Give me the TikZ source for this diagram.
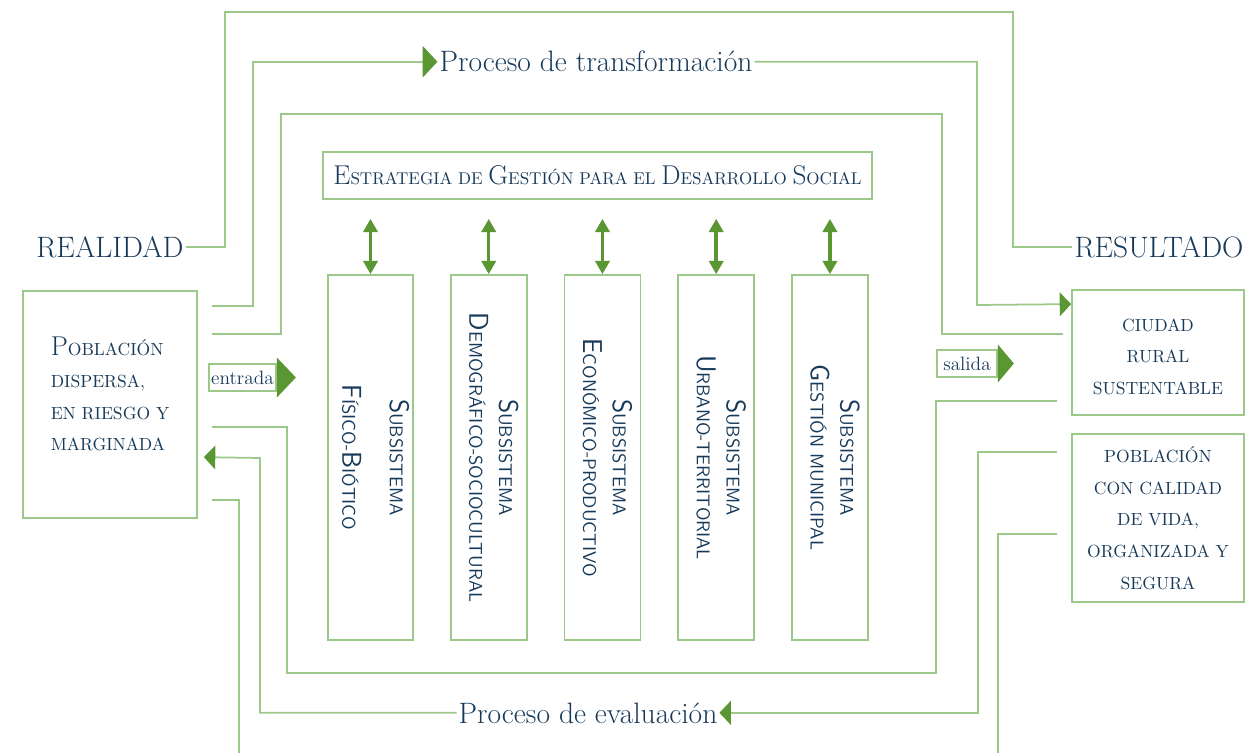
\documentclass[tikz,border=0pt]{standalone}
\usepackage{fontspec}
\usepackage{xcolor}
\usetikzlibrary{arrows.meta, positioning, calc}
\definecolor{linegreen}{HTML}{9CC98A}
\definecolor{tipgreen}{HTML}{5A9632}
\definecolor{navy}{HTML}{173A5A}
\newcommand{\bigc}[1]{{\fontsize{15.5}{18}\selectfont #1}}

\begin{document}
\begin{tikzpicture}[
    x=0.02cm, y=-0.02cm,
    every node/.style={text=navy},
    link/.style={draw=linegreen, line width=1pt},
    linkarrow/.style={link, -{Triangle[color=tipgreen, width=13.5pt, length=6.5pt]}},
    bigarrow/.style={link, -{Triangle[color=tipgreen, width=18pt, length=8.5pt]}},
    box/.style={draw=linegreen, line width=1pt, inner sep=0pt},
    subbox/.style={box, minimum width=1.52cm, minimum height=7.3cm},
    sublabel/.style={xshift=0.1cm, rotate=-90, align=center, font=\sffamily\fontsize{10.5}{17}\selectfont},
    scbox/.style={box, align=center, font=\fontsize{10}{18}\selectfont},
    title/.style={font=\fontsize{16.8}{20}\selectfont, inner sep=1pt},
    tag/.style={box, font=\fontsize{11}{13}\selectfont, minimum height=0.54cm},
    dbl/.style={draw=tipgreen, line width=2pt, {Triangle[width=8pt,length=7.5pt]}-{Triangle[width=8pt,length=7.5pt]}, shorten >=0.38cm},
]
\useasboundingbox (0,0) rectangle (1245,753);

\node[title] (rea) at (110,247) {REALIDAD};
\node[title] (res) at (1159,247) {RESULTADO};
\node[scbox, align=left, minimum width=3.48cm, minimum height=4.54cm] (pob) at (110,404.5) {\bigc{P}OBLACIÓN\\DISPERSA,\\EN RIESGO Y\\MARGINADA\\[-6pt]\mbox{}};
\node[scbox, minimum width=3.44cm, minimum height=2.5cm] (ciudad) at (1158,352.5) {\mbox{}\\[-6pt]CIUDAD\\RURAL\\SUSTENTABLE};
\node[scbox, minimum width=3.44cm, minimum height=3.36cm] (calidad) at (1158,518) {POBLACIÓN\\CON CALIDAD\\DE VIDA,\\ORGANIZADA Y\\SEGURA};

\node[box, minimum width=10.98cm, minimum height=0.94cm, font=\fontsize{9.7}{12}\selectfont] (estr) at (597.5,175.5) {\bigc{E}STRATEGIA DE \bigc{G}ESTIÓN PARA EL \bigc{D}ESARROLLO \bigc{S}OCIAL};

\node[subbox, minimum width=1.7cm] (fis) at (370.5,457.5) {};
\node[subbox, right=0.72cm of fis] (dem) {};
\node[subbox, right=0.72cm of dem] (eco) {};
\node[subbox, right=0.72cm of eco] (urb) {};
\node[subbox, right=0.72cm of urb] (ges) {};
\node[sublabel] (fist) at (fis) {\bigc{S}UBSISTEMA\\[10pt]\bigc{F}ÍSICO-\bigc{B}IÓTICO};
\node[sublabel] (demt) at (dem) {\bigc{S}UBSISTEMA\\\bigc{D}EMOGRÁFICO-SOCIOCULTURAL};
\node[sublabel] (ecot) at (eco) {\bigc{S}UBSISTEMA\\\bigc{E}CONÓMICO-PRODUCTIVO};
\node[sublabel] (urbt) at (urb) {\bigc{S}UBSISTEMA\\\bigc{U}RBANO-TERRITORIAL};
\node[sublabel] (gest) at (ges) {\bigc{S}UBSISTEMA\\\bigc{G}ESTIÓN MUNICIPAL};
\foreach \s in {fis, dem, eco, urb, ges}
    \draw[dbl] (\s.north) -- (\s.north |- estr.south);

\node[tag, minimum width=1.34cm] (ent) at (242.5,377.5) {entrada};
\node[tag, minimum width=1.2cm] (sal) at (967,363.5) {salida};
\fill[tipgreen] ($(ent.east)+(0,-20)$) -- ($(ent.east)+(19,0)$) -- ($(ent.east)+(0,20)$) -- cycle;
\fill[tipgreen] ($(sal.east)+(0,-19)$) -- ($(sal.east)+(16,0)$) -- ($(sal.east)+(0,19)$) -- cycle;

\node[title, anchor=base] (trans) at (596,72) {Proceso de transformación};
\node[title, anchor=base] (eval) at (588,723) {Proceso de evaluación};

\coordinate (s2) at (212,306);
\coordinate (s3) at (212,334);
\coordinate (e3) at (1063,334);
\coordinate (s4) at (212,427);
\coordinate (e4) at (1057,401);
\coordinate (e5) at (1057,452);
\coordinate (s6) at (212,500);
\coordinate (e6) at (1057,534);

\draw[link] (rea.east) -| (225,12) -| (1013,247) -- (res.west);
\draw[bigarrow] (s2) -- (253,306) |- (trans.west);
\draw[linkarrow] (trans.east) -| (977,305) -- ($(ciudad.north west)+(0,15)$);
\draw[link] (s3) -| (281,114) -| (942,334) -- (e3);
\draw[link] (s4) -| (287,673) -| (936,401) -- (e4);
\draw[linkarrow] (e5) -- (978,452) |- (eval.east);
\draw[linkarrow] (eval.west) -| (260,458) -- ($(pob.north east)+(6,167)$);
\draw[link] (s6) -| (239,753);
\draw[link] (e6) -| (998,753);
\end{tikzpicture}
\end{document}
